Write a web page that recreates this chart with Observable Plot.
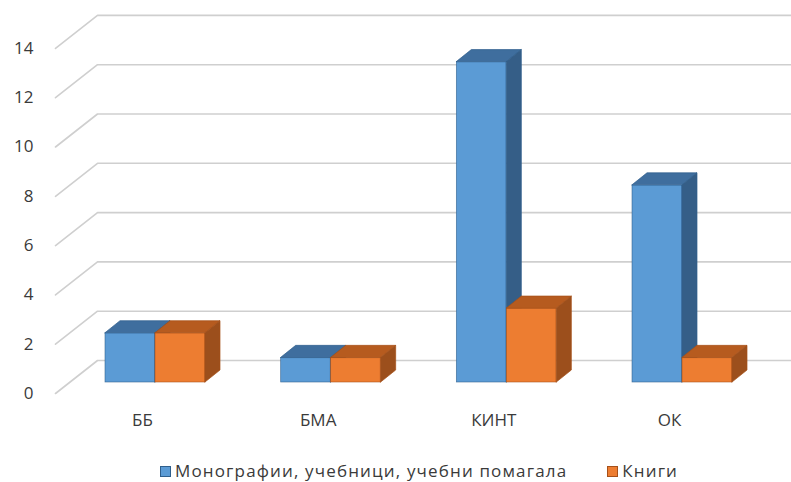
<!DOCTYPE html>
<html>
<head>
<meta charset="utf-8">
<script src="https://cdn.jsdelivr.net/npm/d3@7"></script>
<script src="https://cdn.jsdelivr.net/npm/@observablehq/plot@0.6"></script>
<style>
  html, body { margin: 0; padding: 0; background: #fff; }
  #wrap { position: relative; width: 791px; height: 482px; font-family: "Open Sans", sans-serif; }
  #legend { position: absolute; left: 160px; top: 460px; height: 22px; line-height: 22px; display: flex; align-items: center; font-size: 17px; letter-spacing: 1.15px; color: #3a3a3a; white-space: nowrap; }
  .sw { width: 11px; height: 11px; display: inline-block; margin-right: 4px; box-sizing: border-box; }
  .item { display: flex; align-items: center; }
  .item + .item { margin-left: 40px; }
</style>
</head>
<body>
<div id="wrap"><div id="chart"></div><div id="legend"></div></div>
<script>
// ---- data ----
const categories = ["ББ", "БМА", "КИНТ", "ОК"];
const monographs = [2, 1, 13, 8];
const books = [2, 1, 3, 1];
const yTicks = [0, 2, 4, 6, 8, 10, 12, 14];
const seriesNames = ["Монографии, учебници, учебни помагала", "Книги"];

// ---- styles / layout ----
const W = 791, H = 445;
const step = 175.67, firstCenter = 155, barW = 50;
const y0px = 382, ppu = 24.65, yMax = 15;
const depthDx = 15, depthDy = -12;           // bar depth (px)
const gridFrontX = 55, gridBackX = 97;       // floor edges (px)
const gridFrontDy = 11, gridBackDy = -22;    // relative to bar plane (px)
const colors = [
  {front: "#5b9bd5", top: "#3f6e9e", side: "#355e87", edge: "#2f5f8c"},
  {front: "#ed7d31", top: "#b65b1f", side: "#9c4f1c", edge: "#a65019"}
];

const xd = px => (px - firstCenter) / step;   // pixel -> data x
const ux = px => px / step;                   // pixel offset -> data x offset
const uy = px => -px / ppu;                   // pixel offset -> data y offset

const series = [monographs, books];
const bars = [];
series.forEach((vals, s) => {
  vals.forEach((v, i) => {
    const x0 = i + (s === 0 ? -ux(barW) : 0);
    bars.push({s, i, v, x0, x1: x0 + ux(barW), key: s + "-" + i});
  });
});

const marks = [];
// gridlines (slanted floor-to-wall + horizontal on back wall)
const gridPts = [];
yTicks.forEach(t => {
  gridPts.push({t, x: xd(gridFrontX), y: t + uy(gridFrontDy)});
  gridPts.push({t, x: xd(gridBackX), y: t + uy(gridBackDy)});
  gridPts.push({t, x: xd(W + 5), y: t + uy(gridBackDy)});
});
marks.push(Plot.line(gridPts, {x: "x", y: "y", z: "t", stroke: "#cfcfcf", strokeWidth: 1.6}));

// bars, series by series
[0, 1].forEach(s => {
  const b = bars.filter(d => d.s === s);
  const c = colors[s];
  const topPts = [], sidePts = [];
  b.forEach(d => {
    topPts.push({key: d.key, y: d.v, x1: d.x0, x2: d.x1});
    topPts.push({key: d.key, y: d.v + uy(depthDy), x1: d.x0 + ux(depthDx), x2: d.x1 + ux(depthDx)});
    sidePts.push({key: d.key, x: d.x1, y1: 0, y2: d.v});
    sidePts.push({key: d.key, x: d.x1 + ux(depthDx), y1: uy(depthDy), y2: d.v + uy(depthDy)});
  });
  marks.push(Plot.rect(b, {x1: "x0", x2: "x1", y1: 0, y2: "v", fill: c.front, stroke: c.edge, strokeWidth: 0.7, strokeOpacity: 0.8}));
  marks.push(Plot.areaX(topPts, {y: "y", x1: "x1", x2: "x2", z: "key", fill: c.top, stroke: c.edge, strokeWidth: 0.7, curve: "linear"}));
  marks.push(Plot.areaY(sidePts, {x: "x", y1: "y1", y2: "y2", z: "key", fill: c.side, stroke: c.edge, strokeWidth: 0.7, curve: "linear"}));
});

// y tick labels
marks.push(Plot.text(yTicks, {x: xd(gridFrontX), y: d => d, dy: gridFrontDy, dx: -22, textAnchor: "end", text: d => String(d), fontSize: 17, fill: "#3a3a3a"}));
// category labels
marks.push(Plot.text(categories, {x: (d, i) => i, y: 0, dx: -13, dy: 38, text: d => d, fontSize: 17, fill: "#3a3a3a"}));

const chart = Plot.plot({
  width: W, height: H,
  marginLeft: 0, marginRight: 0, marginTop: y0px - yMax * ppu, marginBottom: H - y0px,
  x: {type: "linear", domain: [xd(0), xd(W)], axis: null},
  y: {type: "linear", domain: [0, yMax], axis: null},
  style: {fontFamily: "'Open Sans', sans-serif", background: "#fff", overflow: "visible"},
  marks
});
document.getElementById("chart").appendChild(chart);

// legend
const lg = document.getElementById("legend");
seriesNames.forEach((n, s) => {
  const it = document.createElement("span");
  it.className = "item";
  const sw = document.createElement("span");
  sw.className = "sw";
  sw.style.background = colors[s].front;
  sw.style.border = "1px solid " + colors[s].edge;
  const tx = document.createElement("span");
  tx.textContent = n;
  it.appendChild(sw); it.appendChild(tx);
  lg.appendChild(it);
});
</script>
</body>
</html>
